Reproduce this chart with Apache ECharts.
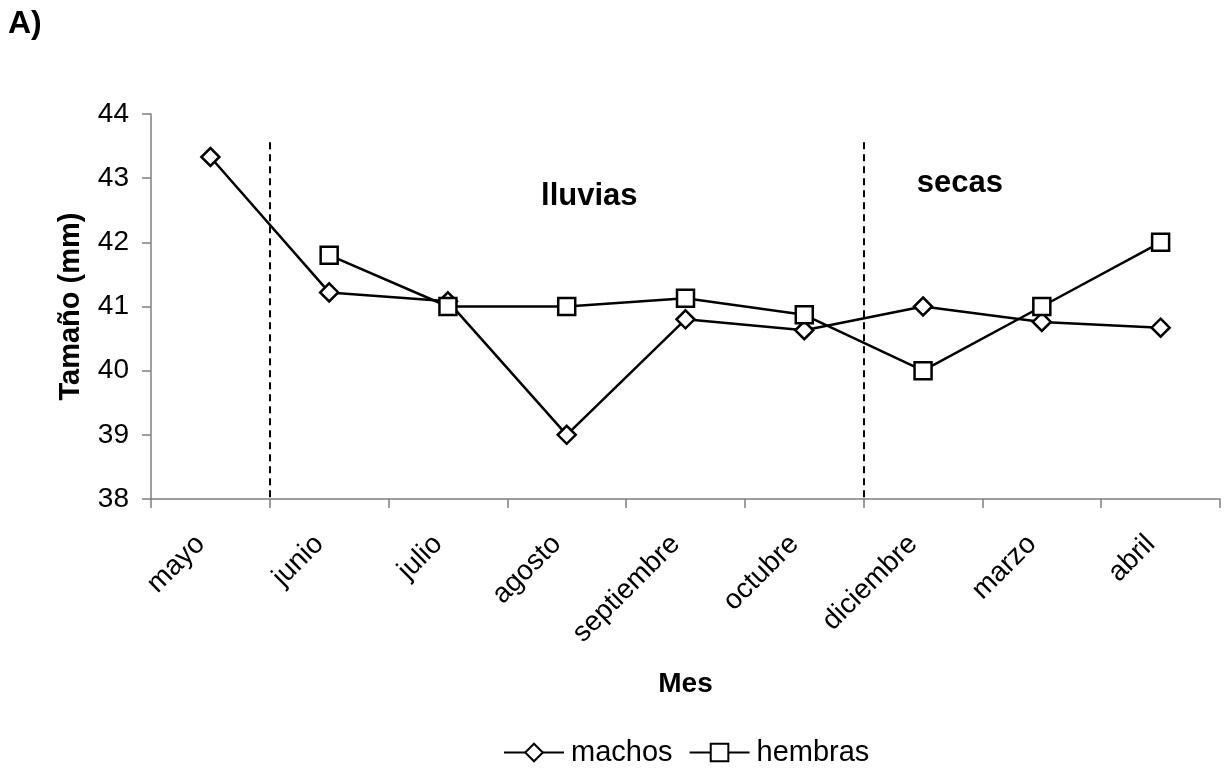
<!DOCTYPE html>
<html>
<head>
<meta charset="utf-8">
<script src="https://cdn.jsdelivr.net/npm/echarts@6/dist/echarts.min.js"></script>
<style>
html,body{margin:0;padding:0;background:#fff;}
#c{width:1227px;height:770px;}
</style>
</head>
<body>
<div id="c"></div>
<script>
const categories = ['mayo','junio','julio','agosto','septiembre','octubre','diciembre','marzo','abril'];
const machos = [43.33, 41.22, 41.08, 39.0, 40.8, 40.63, 41.0, 40.76, 40.67];
const hembras = [null, 41.8, 41.0, 41.0, 41.13, 40.87, 40.0, 41.0, 42.0];
const yTicks = [38, 39, 40, 41, 42, 43, 44];
const seasonBoundaries = [1, 6];        // category-boundary positions (in band units)
const seasonLineTop = 43.56;
const seasonLabels = [
  {name: 'lluvias', x: 3.69, y: 42.72},
  {name: 'secas', x: 6.81, y: 42.92}
];

const FONT = 'Liberation Sans, Arial, sans-serif';
const chart = echarts.init(document.getElementById('c'), null, {renderer: 'canvas'});
chart.setOption({
  animation: false,
  backgroundColor: '#fff',
  textStyle: {fontFamily: FONT, color: '#000'},
  graphic: [{
    type: 'text', left: 8, top: 8,
    style: {text: 'A)', font: 'bold 32px ' + FONT, fill: '#000'}
  }],
  grid: {left: 151, right: 7, top: 114, bottom: 271, containLabel: false},
  legend: {
    top: 733, left: 498,
    itemWidth: 60, itemHeight: 22, itemGap: 16,
    textStyle: {fontSize: 29, fontFamily: FONT, color: '#000', padding: [0, 0, 0, 2]},
    data: ['machos', 'hembras']
  },
  xAxis: [{
    type: 'category', data: categories, boundaryGap: true,
    name: 'Mes', nameLocation: 'middle', nameGap: 171,
    nameTextStyle: {fontSize: 28, fontWeight: 'bold', color: '#000', fontFamily: FONT},
    axisLine: {lineStyle: {color: '#7f7f7f', width: 1.5}},
    axisTick: {show: true, length: 9, lineStyle: {color: '#7f7f7f', width: 1.5}, alignWithLabel: false},
    axisLabel: {rotate: 45, fontSize: 28, color: '#000', margin: 31, padding: [0, 14, 0, 0], fontFamily: FONT, interval: 0},
    splitLine: {show: false}
  }, {
    type: 'value', min: 0, max: 9, show: false
  }],
  yAxis: {
    type: 'value', min: yTicks[0], max: yTicks[yTicks.length - 1], interval: 1,
    name: 'Tamaño (mm)', nameLocation: 'middle', nameGap: 66, nameRotate: 90,
    nameTextStyle: {fontSize: 29, fontWeight: 'bold', color: '#000', fontFamily: FONT},
    axisLine: {show: true, lineStyle: {color: '#7f7f7f', width: 1.5}},
    axisTick: {show: true, length: 9, lineStyle: {color: '#7f7f7f', width: 1.5}},
    axisLabel: {fontSize: 28, color: '#000', margin: 22, fontFamily: FONT},
    splitLine: {show: false}
  },
  series: [{
    name: 'machos', type: 'line', data: machos,
    symbol: 'diamond', symbolSize: [18, 18],
    itemStyle: {color: '#fff', borderColor: '#000', borderWidth: 2.5},
    lineStyle: {color: '#000', width: 2.5},
    connectNulls: false, z: 3
  }, {
    name: 'hembras', type: 'line', data: hembras,
    symbol: 'rect', symbolSize: 17,
    itemStyle: {color: '#fff', borderColor: '#000', borderWidth: 2.5},
    lineStyle: {color: '#000', width: 2.5},
    z: 3
  }, {
    name: 'annot', type: 'line', xAxisIndex: 1, data: [], silent: true,
    markLine: {
      silent: true, symbol: ['none', 'none'],
      lineStyle: {color: '#000', type: [7, 5], width: 2},
      label: {show: false},
      data: seasonBoundaries.map(b => [{coord: [b, seasonLineTop]}, {coord: [b, yTicks[0]]}])
    },
    markPoint: {
      silent: true, symbol: 'circle', symbolSize: 0,
      label: {show: true, position: 'inside', fontSize: 31, fontWeight: 'bold', color: '#000', fontFamily: FONT,
        formatter: p => p.name},
      data: seasonLabels.map(s => ({name: s.name, coord: [s.x, s.y]}))
    }
  }]
});
</script>
</body>
</html>
